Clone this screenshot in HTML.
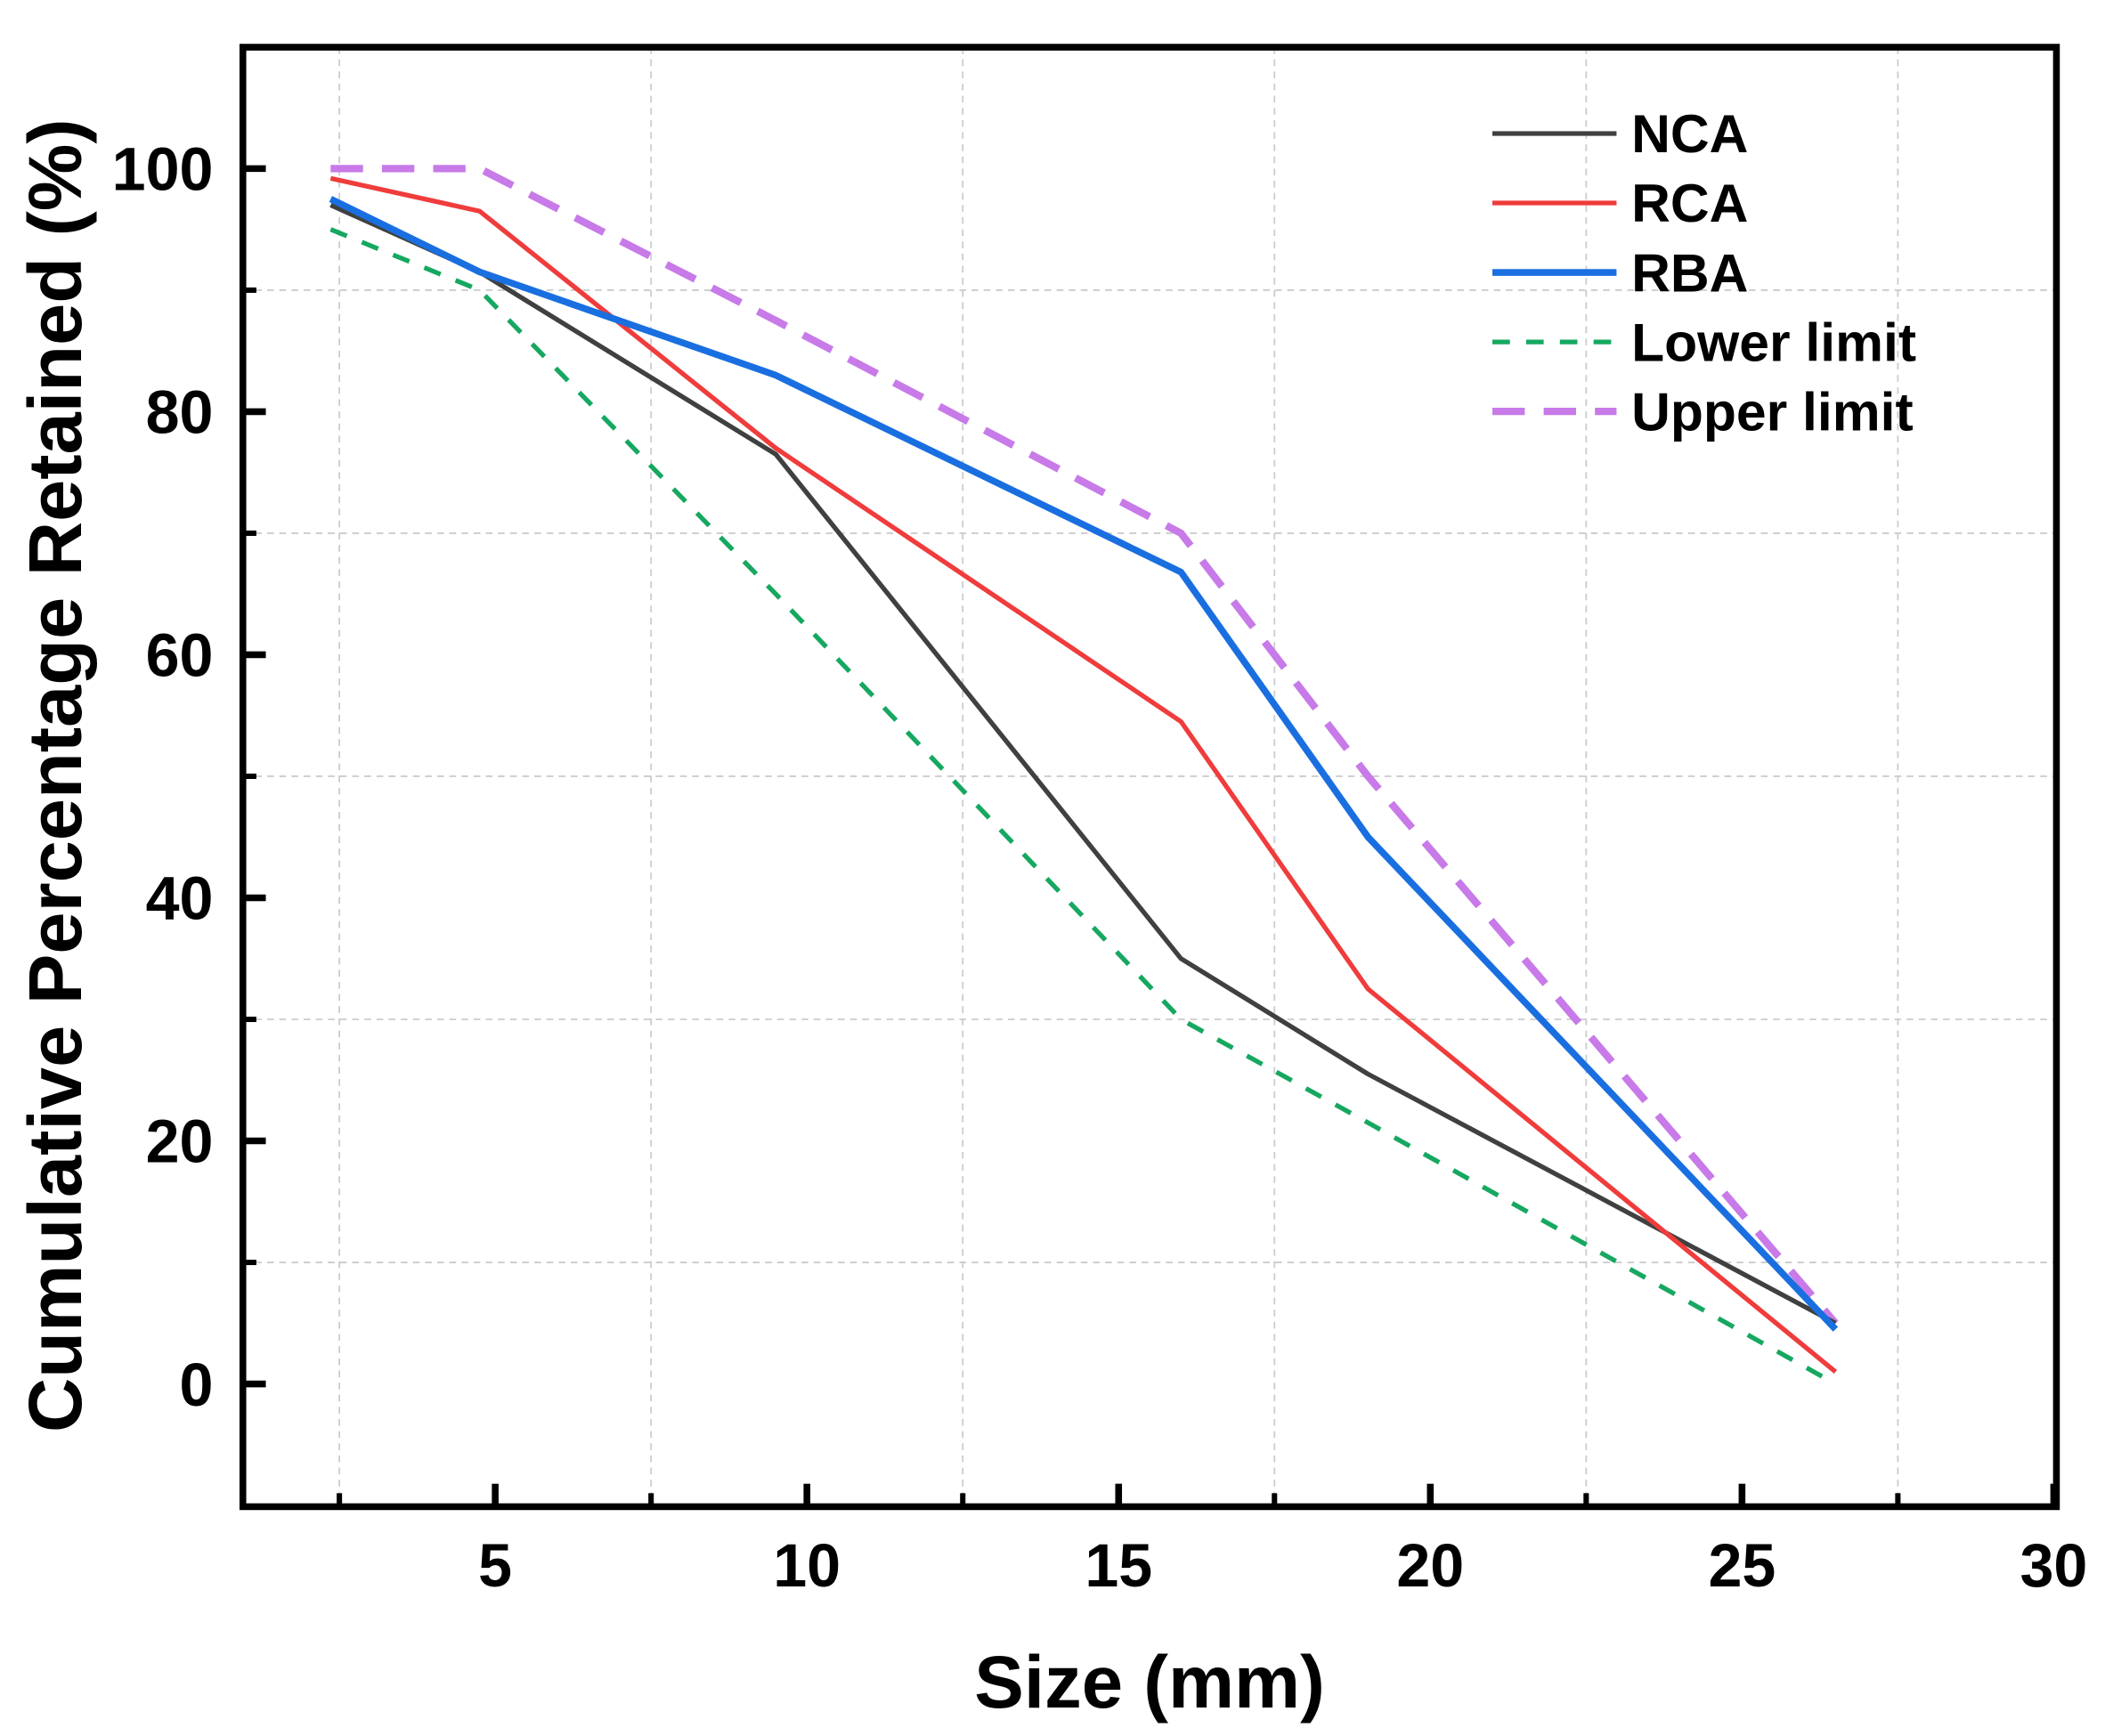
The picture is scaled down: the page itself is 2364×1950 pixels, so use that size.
<!DOCTYPE html>
<html><head><meta charset="utf-8"><style>
html,body{margin:0;padding:0;background:#fff;}
svg{display:block;font-family:"Liberation Sans",Arial,sans-serif;font-weight:bold;}
</style></head><body>
<svg id="chart" width="2364" height="1950" viewBox="0 0 1560 1287" preserveAspectRatio="none" xmlns="http://www.w3.org/2000/svg">
<g id="grid"></g>
<g id="series"></g>
<rect x="180" y="35" width="1344" height="1082" fill="none" stroke="#000" stroke-width="5"/>
<g id="ticks"></g>
<text x="852" y="1266" font-size="55" text-anchor="middle">Size (mm)</text>
<text transform="translate(60,575) rotate(-90)" font-size="56" text-anchor="middle">Cumulative Percentage Retained (%)</text>
<g id="legend"></g>
</svg>
<script>
const sizes = [2.36, 4.75, 9.5, 16, 19, 26.5];
const ncaValues = [97, 91.5, 76.5, 35, 25.5, 5];
const rcaValues = [99.2, 96.5, 77, 54.5, 32.5, 1];
const rbaValues = [97.5, 91.5, 83, 66.8, 45, 4.5];
const lowerValues = [95, 90, 65, 30, 21.5, 0];
const upperValues = [100, 100, 87.5, 70, 50, 5];
const xTicks = [5, 10, 15, 20, 25, 30];
const yTicks = [0, 20, 40, 60, 80, 100];
const xMinor = [2.5, 7.5, 12.5, 17.5, 22.5, 27.5];
const yMinor = [10, 30, 50, 70, 90];

const NS = "http://www.w3.org/2000/svg";
const X = v => 136 + 46.2 * v;
const Y = v => 1026 - 9.01 * v;
function mk(tag, attrs, parent) {
  const e = document.createElementNS(NS, tag);
  for (const k in attrs) e.setAttribute(k, attrs[k]);
  parent.appendChild(e);
  return e;
}
const grid = document.getElementById('grid');
xMinor.forEach(v => {
  const l = mk('line', {x1: X(v), x2: X(v), y1: 35, y2: 1117, stroke: '#ccc', 'stroke-width': 1.2, 'stroke-dasharray': '5,4'}, grid);
  
  
});
yMinor.forEach(v => {
  const l = mk('line', {x1: 180, x2: 1525, y1: Y(v), y2: Y(v), stroke: '#ccc', 'stroke-width': 1.2, 'stroke-dasharray': '5,4'}, grid);
  
  
});
const ticks = document.getElementById('ticks');
xTicks.forEach(v => {
  const l = mk('line', {x1: X(v), x2: X(v), y1: 1117, y2: 1100, stroke: '#000', 'stroke-width': 5}, ticks);
  
  
  const t = mk('text', {x: X(v), y: 1176, 'font-size': 45, 'text-anchor': 'middle'}, ticks);
  t.textContent = v;
  
  
});
xMinor.forEach(v => {
  const l = mk('line', {x1: X(v), x2: X(v), y1: 1117, y2: 1107, stroke: '#000', 'stroke-width': 4}, ticks);
  
  
});
yTicks.forEach(v => {
  const l = mk('line', {x1: 180, x2: 197, y1: Y(v), y2: Y(v), stroke: '#000', 'stroke-width': 5}, ticks);
  
  
  const t = mk('text', {x: 158, y: Y(v) + 16, 'font-size': 45, 'text-anchor': 'end'}, ticks);
  t.textContent = v;
  
  
});
yMinor.forEach(v => {
  const l = mk('line', {x1: 180, x2: 190, y1: Y(v), y2: Y(v), stroke: '#000', 'stroke-width': 4}, ticks);
  
  
});
const seriesDefs = [
  {name: 'NCA', vals: ncaValues, color: '#404040', w: 3.5, dash: ''},
  {name: 'RCA', vals: rcaValues, color: '#f03c3c', w: 3.5, dash: ''},
  {name: 'RBA', vals: rbaValues, color: '#1a6fe0', w: 5, dash: ''},
  {name: 'Lower limit', vals: lowerValues, color: '#16a860', w: 3.5, dash: '13,12'},
  {name: 'Upper limit', vals: upperValues, color: '#c77ae8', w: 5.5, dash: '24,14'}
];
const sg = document.getElementById('series');
const lg = document.getElementById('legend');
const order = [3, 4, 0, 1, 2];
order.forEach(i => {
  const s = seriesDefs[i];
  const d = s.vals.map((v, j) => (j ? 'L' : 'M') + X(sizes[j]) + ',' + Y(v)).join(' ');
  const p = mk('path', {d: d, fill: 'none', stroke: s.color, 'stroke-width': s.w, 'stroke-dasharray': s.dash, 'stroke-linejoin': 'round'}, sg);
  
  
});
seriesDefs.forEach((s, i) => {
  const y = 99 + i * 51.5;
  const l = mk('line', {x1: 1106, x2: 1198, y1: y, y2: y, stroke: s.color, 'stroke-width': s.w, 'stroke-dasharray': s.dash}, lg);
  
  
  const t = mk('text', {x: 1209, y: y + 14, 'font-size': 40}, lg);
  t.textContent = s.name;
  
  
});
</script>
</body></html>
